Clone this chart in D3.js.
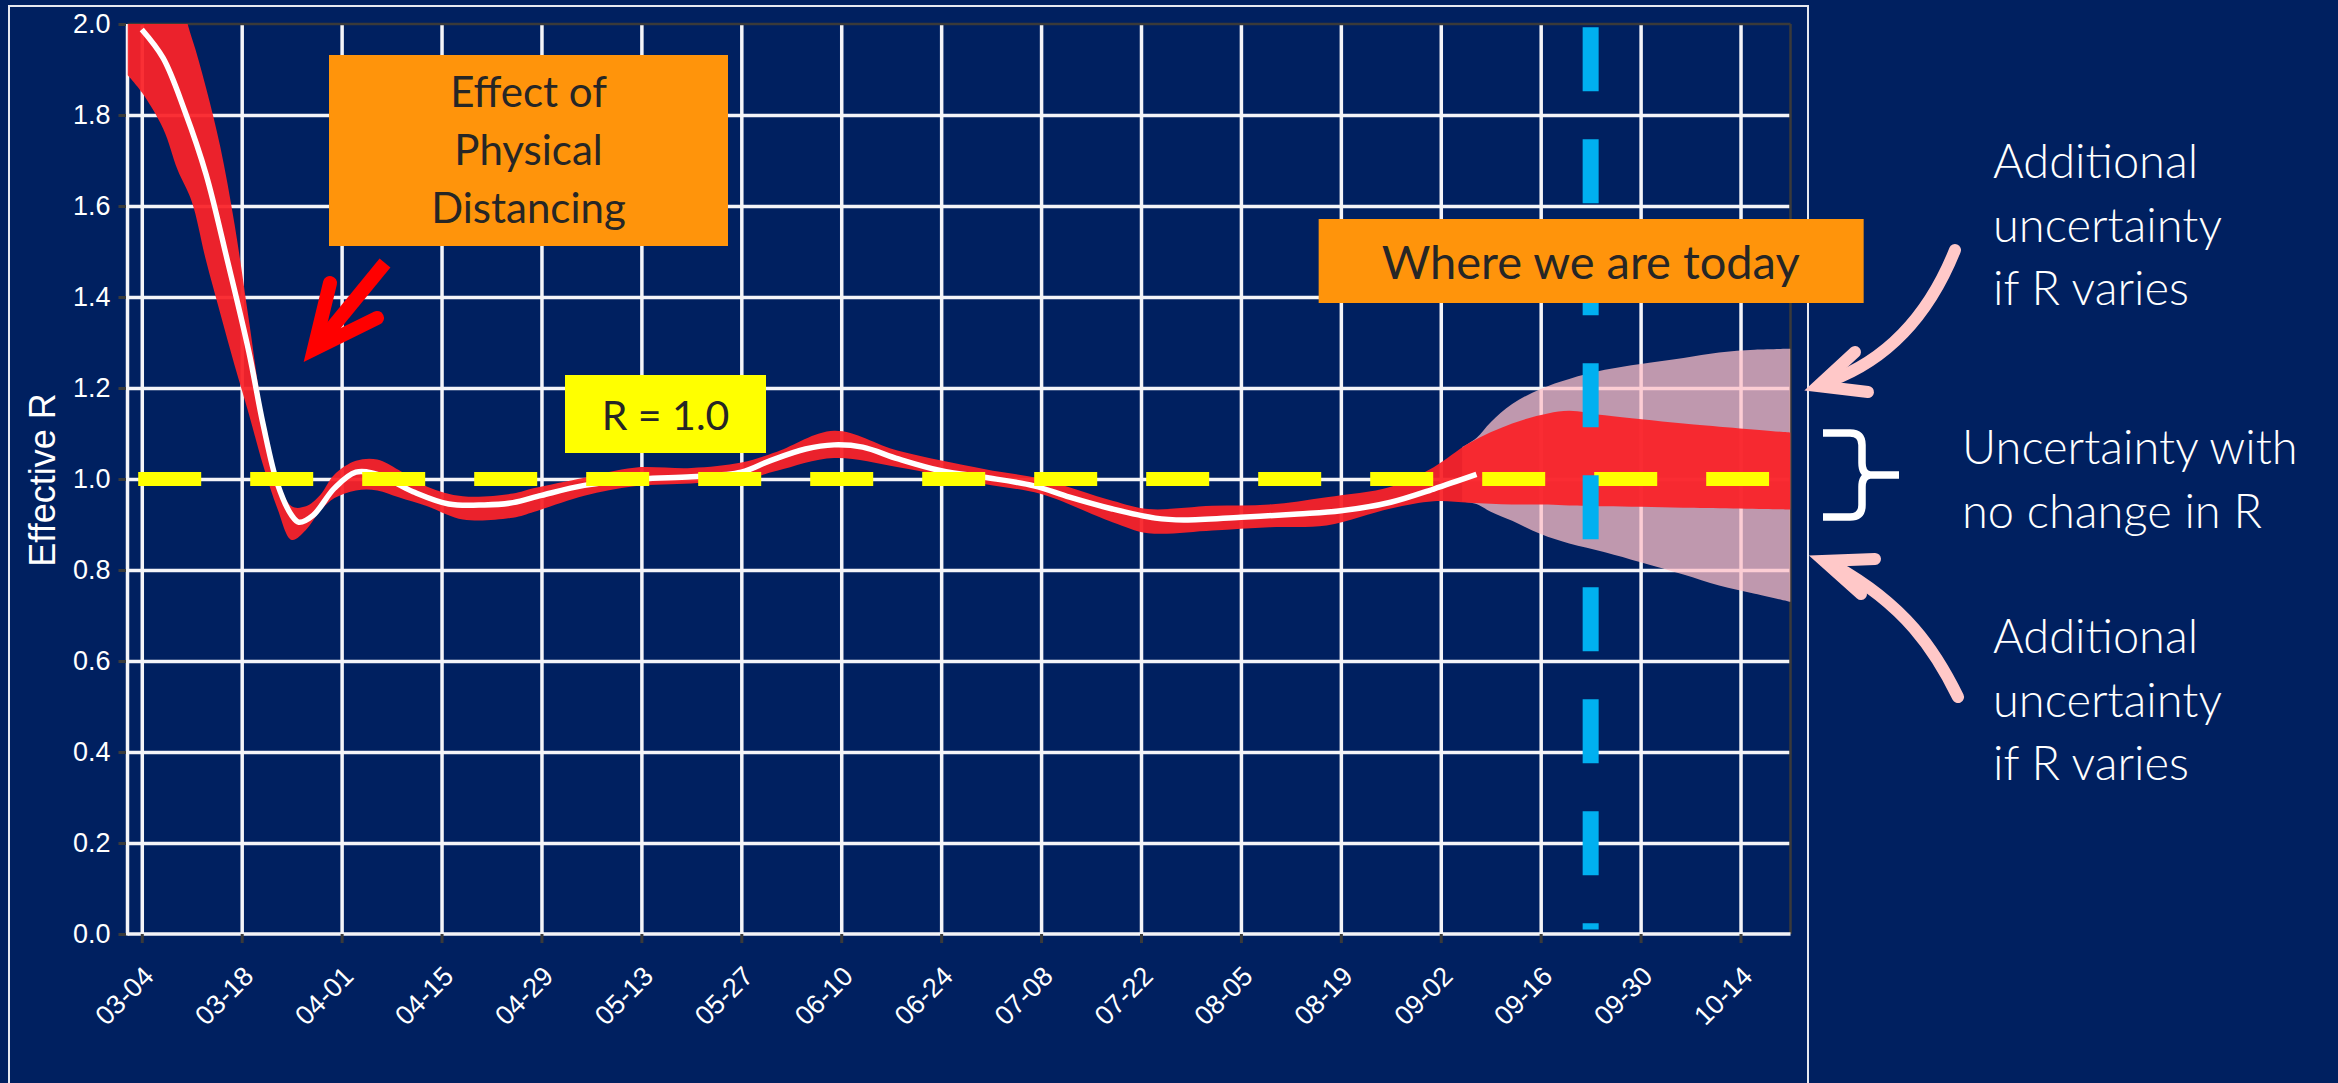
<!DOCTYPE html>
<html>
<head>
<meta charset="utf-8">
<title>Effective R</title>
<script src="https://d3js.org/d3.v7.min.js"></script>
<style>
  body { margin: 0; background: #002060; }
  svg { display: block; }
</style>
</head>
<body>
<svg id="chart"></svg>
<script>
// ---- data ----
var tickLabels = ["03-04","03-18","04-01","04-15","04-29","05-13","05-27","06-10","06-24",
                  "07-08","07-22","08-05","08-19","09-02","09-16","09-30","10-14"];
var yTicks = [0, 0.2, 0.4, 0.6, 0.8, 1.0, 1.2, 1.4, 1.6, 1.8, 2.0];

// red band (uncertainty with no change in R)
var bandDates = ["03-02","03-04","03-07","03-09","03-11","03-13","03-15","03-17","03-19","03-21",
                 "03-23","03-25","03-27","03-29","03-31","04-03","04-06","04-09","04-13","04-18",
                 "04-25","04-28","05-05","05-12","05-20","05-27","06-01","06-09","06-18","06-30",
                 "07-08","07-18","07-23","08-01","08-09","08-17","08-26","09-01","09-06","09-12",
                 "09-17","09-20","09-25","10-06","10-21"];
var bandUpper = [2.06,2.06,2.06,2.05,1.97,1.86,1.73,1.56,1.35,1.14,
                 1.005,0.94,0.94,0.965,1.01,1.04,1.043,1.02,0.983,0.962,
                 0.968,0.98,1.003,1.025,1.024,1.036,1.06,1.106,1.062,1.022,
                 1.0,0.952,0.934,0.941,0.944,0.96,0.983,1.026,1.079,1.122,
                 1.144,1.15,1.14,1.122,1.102];
var bandLower = [1.888,1.85,1.77,1.68,1.61,1.48,1.364,1.25,1.143,1.03,
                 0.935,0.866,0.888,0.93,0.958,0.975,0.975,0.96,0.94,0.911,
                 0.915,0.928,0.963,0.984,0.99,0.997,1.018,1.046,1.026,0.989,
                 0.967,0.905,0.881,0.887,0.894,0.898,0.935,0.951,0.948,0.944,
                 0.944,0.942,0.94,0.937,0.933];

// central estimate (white line)
var medianDates = ["03-04","03-07","03-10","03-13","03-16","03-19","03-21","03-23","03-25","03-26",
                   "03-28","03-31","04-03","04-06","04-11","04-16","04-21","04-25","04-29","05-05",
                   "05-13","05-20","05-27","05-31","06-05","06-09","06-13","06-18","06-24","06-30",
                   "07-07","07-12","07-18","07-24","07-28","08-05","08-13","08-19","08-26","09-01","09-07"];
var medianR = [1.988,1.925,1.81,1.67,1.48,1.28,1.12,0.99,0.92,0.905,
               0.92,0.98,1.015,1.01,0.972,0.945,0.943,0.948,0.964,0.986,
               1.0,1.005,1.015,1.04,1.066,1.075,1.07,1.044,1.018,1.004,
               0.985,0.96,0.934,0.914,0.91,0.916,0.923,0.93,0.949,0.978,1.01];

// pink band (additional uncertainty if R varies)
var pinkDates = ["09-05","09-07","09-09","09-12","09-16","09-20","09-25","09-30","10-06","10-11","10-16","10-21"];
var pinkUpper = [1.07,1.09,1.125,1.165,1.198,1.22,1.24,1.253,1.266,1.278,1.284,1.286];
var pinkLower = [0.95,0.945,0.928,0.908,0.879,0.858,0.839,0.817,0.79,0.766,0.748,0.73];

var refValue = 1.0;
var refDates = ["2020-03-03T12:00:00", "2020-10-18T00:00:00"];
var todayDate = "09-23";

// ---- layout ----
var W = 2338, H = 1083;
var plotL = 127.5, plotR = 1790.5, plotT = 24, plotB = 934;

function toDate(s) { return new Date("2020-" + s + "T00:00:00"); }

var svg = d3.select("#chart").attr("width", W).attr("height", H);
svg.append("rect").attr("width", W).attr("height", H).attr("fill", "#002060");

// slide frame
svg.append("rect")
    .attr("x", 9).attr("y", 6).attr("width", 1799).attr("height", 1100)
    .attr("fill", "none").attr("stroke", "#e6e8f0").attr("stroke-width", 2);

var x = d3.scaleTime()
    .domain([toDate("03-02"), toDate("10-21")])
    .range([plotL, plotR]);
var y = d3.scaleLinear().domain([0, 2]).range([plotB, plotT]);

var tickDates = tickLabels.map(toDate);

// grid
var gy = svg.append("g")
    .attr("transform", "translate(" + plotL + ",0)")
    .call(d3.axisLeft(y).tickValues(yTicks.filter(function (v) { return v > 0 && v < 2; }))
        .tickSize(-(plotR - plotL)).tickFormat(""));
var gx = svg.append("g")
    .attr("transform", "translate(0," + plotB + ")")
    .call(d3.axisBottom(x).tickValues(tickDates).tickSize(-(plotB - plotT)).tickFormat(""));
[gy, gx].forEach(function (g) {
    g.select(".domain").remove();
    g.selectAll("line").attr("stroke", "#f4f4f8").attr("stroke-width", 3.5);
});

// axis frame
svg.append("line").attr("x1", plotL).attr("x2", plotR).attr("y1", plotT).attr("y2", plotT)
    .attr("stroke", "#3a3a3a").attr("stroke-width", 2.5);
svg.append("line").attr("x1", plotR).attr("x2", plotR).attr("y1", plotT).attr("y2", plotB)
    .attr("stroke", "#3a3a3a").attr("stroke-width", 2.5);
svg.append("line").attr("x1", plotL).attr("x2", plotL).attr("y1", plotT).attr("y2", plotB + 1.5)
    .attr("stroke", "#f4f4f8").attr("stroke-width", 3.5);
svg.append("line").attr("x1", plotL).attr("x2", plotR).attr("y1", plotB).attr("y2", plotB)
    .attr("stroke", "#f4f4f8").attr("stroke-width", 3.5);

// axes with labels
var ay = svg.append("g")
    .attr("transform", "translate(" + plotL + ",0)")
    .call(d3.axisLeft(y).tickValues(yTicks).tickSize(9).tickPadding(8).tickFormat(d3.format(".1f")));
var ax = svg.append("g")
    .attr("transform", "translate(0," + plotB + ")")
    .call(d3.axisBottom(x).tickValues(tickDates).tickSize(9).tickFormat(d3.timeFormat("%m-%d")));
[ay, ax].forEach(function (g) {
    g.attr("font-size", null).attr("font-family", null);
    g.select(".domain").remove();
    g.selectAll("line").attr("stroke", "#3a3a3a").attr("stroke-width", 3);
    g.selectAll("text").attr("fill", "#ffffff")
        .style("font-family", "'Liberation Sans', Arial, sans-serif").style("font-size", "27px");
});
ay.selectAll(".tick line").attr("x1", -1.5);
ax.selectAll("text")
    .attr("x", 0).attr("y", 0).attr("dy", 0)
    .attr("text-anchor", "end")
    .attr("transform", "translate(13,44) rotate(-45)");

svg.append("text")
    .attr("transform", "translate(55,480) rotate(-90)")
    .attr("text-anchor", "middle")
    .attr("fill", "#ffffff")
    .style("font-family", "'Liberation Sans', Arial, sans-serif").style("font-size", "36px")
    .text("Effective R");

// clip to plot area
svg.append("defs").append("clipPath").attr("id", "plotclip")
    .append("rect").attr("x", plotL).attr("y", plotT).attr("width", plotR - plotL).attr("height", plotB - plotT);
var plot = svg.append("g").attr("clip-path", "url(#plotclip)");

var band = bandDates.map(function (d, i) { return { date: toDate(d), lo: bandLower[i], hi: bandUpper[i] }; });
var pink = pinkDates.map(function (d, i) { return { date: toDate(d), lo: pinkLower[i], hi: pinkUpper[i] }; });
var med = medianDates.map(function (d, i) { return { date: toDate(d), r: medianR[i] }; });

var area = d3.area()
    .x(function (d) { return x(d.date); })
    .y0(function (d) { return y(d.lo); })
    .y1(function (d) { return y(d.hi); })
    .curve(d3.curveCatmullRom.alpha(0.5));

plot.append("path").datum(pink).attr("d", area)
    .attr("fill", "#ffc0c8").attr("fill-opacity", 0.75);
plot.append("path").datum(band).attr("d", area)
    .attr("fill", "#fa2228").attr("fill-opacity", 0.94);

plot.append("path").datum(med)
    .attr("d", d3.line().x(function (d) { return x(d.date); }).y(function (d) { return y(d.r); })
        .curve(d3.curveCatmullRom.alpha(0.5)))
    .attr("fill", "none").attr("stroke", "#ffffff").attr("stroke-width", 5.5);

// R = 1 reference
plot.append("line")
    .attr("x1", x(new Date(refDates[0]))).attr("x2", x(new Date(refDates[1])))
    .attr("y1", y(refValue)).attr("y2", y(refValue))
    .attr("stroke", "#ffff00").attr("stroke-width", 14).attr("stroke-dasharray", "63 49");

// today
var tx = x(toDate(todayDate));
plot.append("line")
    .attr("x1", tx).attr("x2", tx).attr("y1", y(1.993)).attr("y2", y(0.01))
    .attr("stroke", "#00b0f0").attr("stroke-width", 16).attr("stroke-dasharray", "64 48");

// ---- annotations ----
var calib = "Lato, 'Open Sans', sans-serif";
var dark = "#262626";

svg.append("rect").attr("x", 329).attr("y", 55).attr("width", 399).attr("height", 191).attr("fill", "#ff940b");
["Effect of", "Physical", "Distancing"].forEach(function (t, i) {
    svg.append("text").attr("x", 528.5).attr("y", 107 + i * 58)
        .attr("text-anchor", "middle").attr("fill", dark)
        .style("font-family", calib).style("font-size", "42px").text(t);
});

// red arrow
svg.append("path").attr("d", "M385,263 L322,340")
    .attr("stroke", "#ff0000").attr("stroke-width", 14).attr("fill", "none");
svg.append("path").attr("d", "M330,283 L314,349 L377,318")
    .attr("stroke", "#ff0000").attr("stroke-width", 14).attr("fill", "none")
    .attr("stroke-linecap", "round").attr("stroke-linejoin", "miter");

svg.append("rect").attr("x", 565).attr("y", 375).attr("width", 201).attr("height", 78).attr("fill", "#ffff00");
svg.append("text").attr("x", 665.5).attr("y", 430).attr("text-anchor", "middle").attr("fill", dark)
    .style("font-family", calib).style("font-size", "41px").text("R = 1.0");

svg.append("rect").attr("x", tx - 272).attr("y", 219).attr("width", 545).attr("height", 84).attr("fill", "#ff940b");
svg.append("text").attr("x", tx).attr("y", 279).attr("text-anchor", "middle").attr("fill", dark)
    .style("font-family", calib).style("font-size", "47px").text("Where we are today");

// right-hand notes
function note(lines, x0, y0) {
    lines.forEach(function (t, i) {
        svg.append("text").attr("x", x0).attr("y", y0 + i * 63.5).attr("fill", "#ffffff")
            .style("font-family", calib).style("font-weight", 300).style("font-size", "47px").text(t);
    });
}
note(["Additional", "uncertainty", "if R varies"], 1993, 178);
note(["Uncertainty with", "no change in R"], 1962, 464);
note(["Additional", "uncertainty", "if R varies"], 1993, 653);

var pinkArrow = "#ffc8c8";
svg.append("path").attr("d", "M1955,250 C1935,300 1900,355 1830,381")
    .attr("stroke", pinkArrow).attr("stroke-width", 12).attr("fill", "none").attr("stroke-linecap", "round");
svg.append("path").attr("d", "M1855,352 L1818,386 L1868,392")
    .attr("stroke", pinkArrow).attr("stroke-width", 12).attr("fill", "none")
    .attr("stroke-linecap", "round").attr("stroke-linejoin", "miter");
svg.append("path").attr("d", "M1958,697 C1935,650 1905,605 1835,566")
    .attr("stroke", pinkArrow).attr("stroke-width", 12).attr("fill", "none").attr("stroke-linecap", "round");
svg.append("path").attr("d", "M1861,594 L1824,561 L1875,559")
    .attr("stroke", pinkArrow).attr("stroke-width", 12).attr("fill", "none")
    .attr("stroke-linecap", "round").attr("stroke-linejoin", "miter");

// brace
svg.append("path")
    .attr("d", "M1823,433 L1850,433 Q1862,433 1862,445 L1862,463 Q1862,474 1870,475 L1899,475 " +
               "M1870,475 Q1862,476 1862,487 L1862,505 Q1862,517 1850,517 L1823,517")
    .attr("stroke", "#ffffff").attr("stroke-width", 7.5).attr("fill", "none");
</script>
</body>
</html>
